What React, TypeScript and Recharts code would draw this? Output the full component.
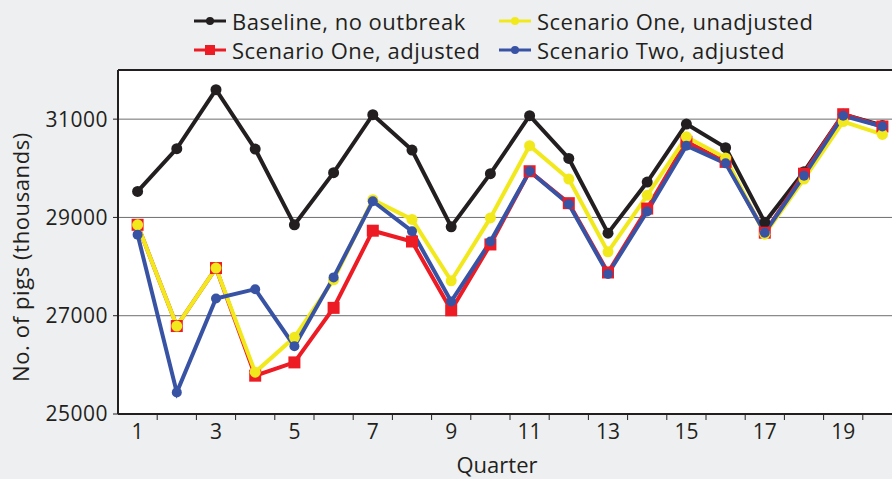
import { CartesianGrid, Line, LineChart, ReferenceLine, XAxis, YAxis } from "recharts";

const QUARTERS = [1, 2, 3, 4, 5, 6, 7, 8, 9, 10, 11, 12, 13, 14, 15, 16, 17, 18, 19, 20];
const BASELINE = [29530, 30400, 31600, 30390, 28850, 29910, 31090, 30370, 28810, 29890, 31070, 30200, 28680, 29720, 30900, 30420, 28900, 29930, 31100, 30870];
const S1_UNADJ = [28850, 26790, 27970, 25850, 26560, 27730, 29360, 28960, 27710, 28990, 30460, 29780, 28300, 29450, 30640, 30210, 28660, 29780, 30950, 30690];
const S1_ADJ = [28850, 26790, 27970, 25780, 26050, 27160, 28730, 28510, 27110, 28450, 29940, 29290, 27880, 29180, 30540, 30130, 28690, 29890, 31100, 30850];
const S2_ADJ = [28650, 25440, 27350, 27540, 26380, 27780, 29330, 28720, 27290, 28510, 29940, 29270, 27850, 29120, 30460, 30100, 28690, 29850, 31070, 30850];
const Y_TICKS = [25000, 27000, 29000, 31000];
const X_LABELS = [1, 3, 5, 7, 9, 11, 13, 15, 17, 19];
const X_BOUNDS = [1.5, 2.5, 3.5, 4.5, 5.5, 6.5, 7.5, 8.5, 9.5, 10.5, 11.5, 12.5, 13.5, 14.5, 15.5, 16.5, 17.5, 18.5, 19.5, 20.5];

const INK = "#231f20";
const RED = "#ed1c24";
const YELLOW = "#f2e91c";
const BLUE = "#3953a4";
const FONT = "'Open Sans', sans-serif";

const data = QUARTERS.map((q, i) => ({
  q,
  base: BASELINE[i],
  s1u: S1_UNADJ[i],
  s1a: S1_ADJ[i],
  s2a: S2_ADJ[i],
}));

const xTicks = [...X_LABELS, ...X_BOUNDS].sort((a, b) => a - b);

function XTick(props: any) {
  const { x, y, payload } = props;
  const v = payload.value as number;
  if (!Number.isInteger(v)) {
    return <line x1={x} x2={x} y1={y} y2={y + 5} stroke={INK} strokeWidth={1} />;
  }
  return (
    <text x={x} y={y + 24} textAnchor="middle" fill={INK} fontSize={21} fontFamily={FONT}>
      {v}
    </text>
  );
}

function SquareDot(props: any) {
  const { cx, cy, index } = props;
  if (cx == null || cy == null) return null;
  return <rect key={`sq-${index}`} x={cx - 6} y={cy - 6} width={12} height={12} fill={RED} />;
}

function LegendIcon({ color, square }: { color: string; square?: boolean }) {
  return (
    <svg width={32} height={12} style={{ marginRight: 6 }}>
      <line x1={0} x2={32} y1={6} y2={6} stroke={color} strokeWidth={3} />
      {square ? <rect x={11} y={1} width={10} height={10} fill={color} /> : <circle cx={16} cy={6} r={4} fill={color} />}
    </svg>
  );
}

function LegendItem({ left, top, color, label, square }: { left: number; top: number; color: string; label: string; square?: boolean }) {
  return (
    <div style={{ position: "absolute", left, top, display: "flex", alignItems: "center", fontSize: 22, letterSpacing: 0.5, fontFamily: FONT, color: INK, whiteSpace: "nowrap", lineHeight: "28px" }}>
      <LegendIcon color={color} square={square} />
      {label}
    </div>
  );
}

export default function App() {
  return (
    <div style={{ position: "absolute", left: 0, top: 0, width: 892, height: 479, overflow: "hidden", background: "#eeeff1" }}>
      <LineChart width={912} height={479} data={data} margin={{ top: 70, right: 10, bottom: 0, left: 0 }}>
        <CartesianGrid vertical={false} fill="#ffffff" stroke="#6d6e70" strokeWidth={1} />
        <XAxis
          dataKey="q"
          type="number"
          domain={[0.5, 20.5]}
          ticks={xTicks}
          interval={0}
          tick={<XTick />}
          tickLine={false}
          tickSize={0}
          tickMargin={1}
          height={65}
          axisLine={{ stroke: INK, strokeWidth: 2 }}
        />
        <YAxis
          domain={[25000, 32000]}
          ticks={Y_TICKS}
          interval={0}
          width={118}
          tickSize={5}
          tickMargin={5}
          tick={{ fill: INK, fontSize: 21, fontFamily: FONT, letterSpacing: 0.5 }}
          tickLine={{ stroke: INK }}
          axisLine={{ stroke: INK, strokeWidth: 2 }}
        />
        <ReferenceLine y={32000} stroke={INK} strokeWidth={2} />
        <Line dataKey="base" stroke={INK} strokeWidth={4} dot={{ r: 5.5, fill: INK, stroke: INK, strokeWidth: 0 }} isAnimationActive={false} />
        <Line dataKey="s1a" stroke={RED} strokeWidth={4} dot={<SquareDot />} isAnimationActive={false} />
        <Line dataKey="s1u" stroke={YELLOW} strokeWidth={4} dot={{ r: 5.5, fill: YELLOW, stroke: YELLOW, strokeWidth: 0 }} isAnimationActive={false} />
        <Line dataKey="s2a" stroke={BLUE} strokeWidth={4} dot={{ r: 5, fill: BLUE, stroke: BLUE, strokeWidth: 0 }} isAnimationActive={false} />
      </LineChart>

      <LegendItem left={194} top={7} color={INK} label="Baseline, no outbreak" />
      <LegendItem left={499} top={7} color={YELLOW} label="Scenario One, unadjusted" />
      <LegendItem left={194} top={36} color={RED} label="Scenario One, adjusted" square />
      <LegendItem left={499} top={36} color={BLUE} label="Scenario Two, adjusted" />

      <div style={{ position: "absolute", left: 20, top: 257, transform: "translate(-50%, -50%) rotate(-90deg)", fontSize: 22, letterSpacing: 0.6, fontFamily: FONT, color: INK, whiteSpace: "nowrap" }}>
        No. of pigs (thousands)
      </div>
      <div style={{ position: "absolute", left: 497, top: 464, transform: "translate(-50%, -50%)", fontSize: 22, fontFamily: FONT, color: INK }}>
        Quarter
      </div>
    </div>
  );
}
